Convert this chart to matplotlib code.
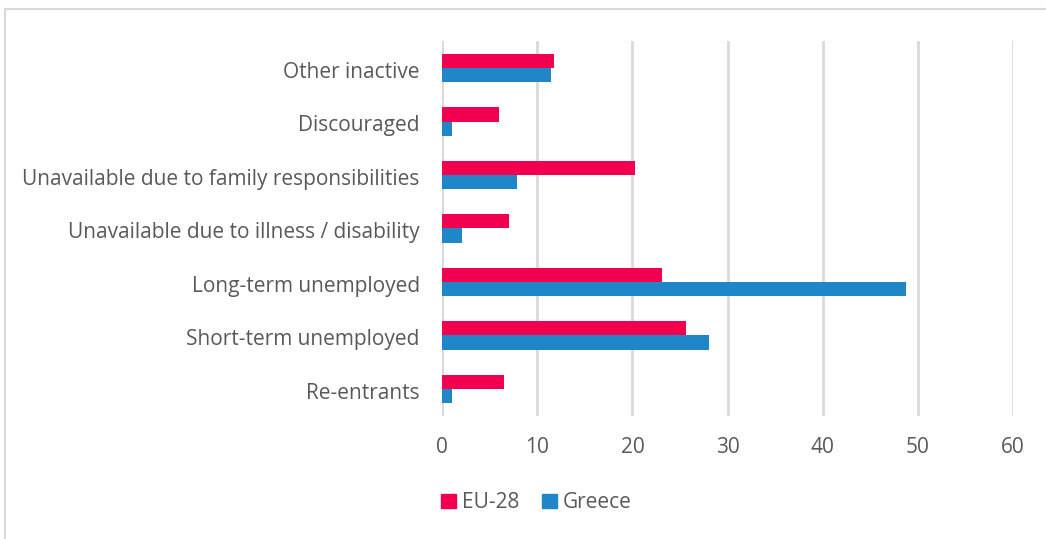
import numpy as np
import matplotlib.pyplot as plt
import matplotlib.transforms as mtransforms
from matplotlib.lines import Line2D
from matplotlib.patches import Patch

plt.rcParams['font.family'] = ['Open Sans', 'DejaVu Sans']

# categories from bottom to top
categories = ["Re-entrants", "Short-term unemployed", "Long-term unemployed",
              "Unavailable due to illness / disability",
              "Unavailable due to family responsibilities",
              "Discouraged", "Other inactive"]
eu28 = [6.5, 25.6, 23.1, 7.0, 20.3, 6.0, 11.8]
greece = [1.0, 28.0, 48.7, 2.1, 7.9, 1.0, 11.4]
xticks = [0, 10, 20, 30, 40, 50, 60]

red = "#F0004F"
blue = "#1F86C8"
grey_txt = "#595959"
grid_col = "#D9D9D9"

fig = plt.figure(figsize=(10.46, 5.39), dpi=100)
ax = fig.add_axes([0.4226, 0.2288, 0.546, 0.6946])

y = np.arange(len(categories))
h = 0.265
ax.barh(y + h / 2, eu28, height=h, color=red, label="EU-28", zorder=3)
ax.barh(y - h / 2, greece, height=h, color=blue, label="Greece", zorder=3)

ax.set_xlim(0, 60)
ax.set_ylim(-0.5, len(categories) - 0.5)
ax.set_xticks(xticks)
ax.set_yticks(y)
ax.set_yticklabels(categories, va='center')
ax.xaxis.grid(True, color=grid_col, linewidth=2, zorder=0)
for s in ax.spines.values():
    s.set_visible(False)
ax.tick_params(axis='both', length=0, labelsize=15, labelcolor=grey_txt)
ax.tick_params(axis='x', pad=15)
ax.tick_params(axis='y', pad=16)

# nudge category labels down a little
shift = mtransforms.ScaledTranslation(0, -3 / 72, fig.dpi_scale_trans)
for lbl in ax.get_yticklabels():
    lbl.set_transform(lbl.get_transform() + shift)

handles = [Patch(color=red), Patch(color=blue)]
fig.legend(handles, ["EU-28", "Greece"], loc='center', bbox_to_anchor=(0.513, 0.067),
           ncol=2, frameon=False, fontsize=15, labelcolor=grey_txt,
           handlelength=0.7, handleheight=0.7, handletextpad=0.3, columnspacing=1.1)

# outer frame, only top and left edges fall inside the image
fig.add_artist(Line2D([0.0045, 1.0], [0.983, 0.983], color=grid_col, linewidth=1.5))
fig.add_artist(Line2D([0.005, 0.005], [0.0, 0.983], color=grid_col, linewidth=1.5))

fig.savefig("out.png", dpi=100)
